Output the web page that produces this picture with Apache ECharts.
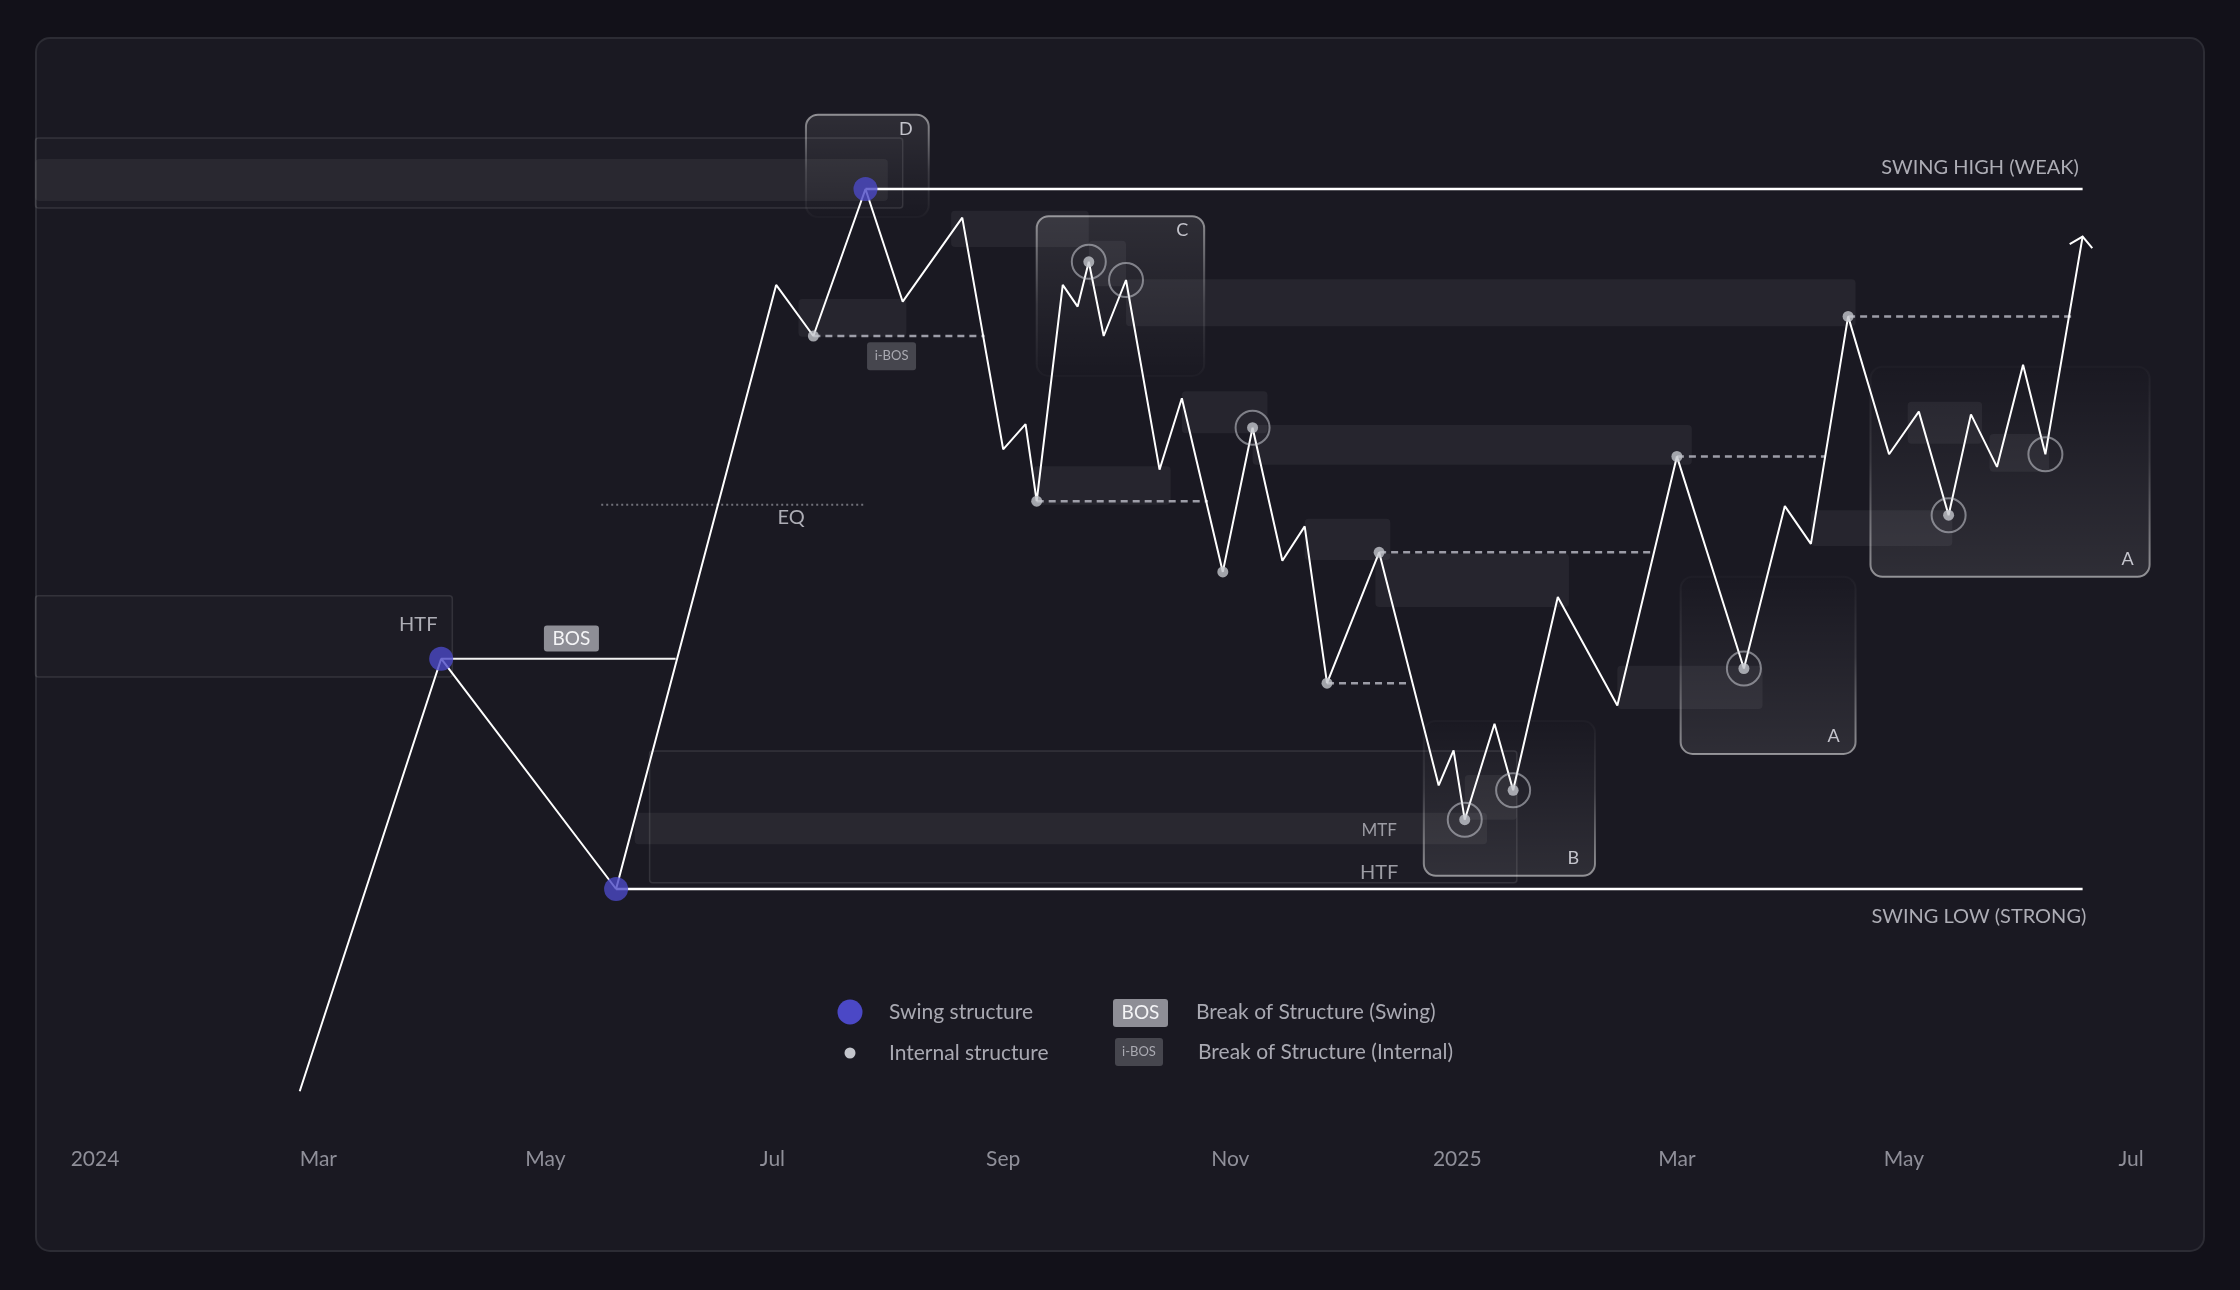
<!DOCTYPE html>
<html lang="en">
<head>
<meta charset="utf-8">
<title>Market structure</title>
<script src="https://cdn.jsdelivr.net/npm/echarts@6/dist/echarts.min.js"></script>
<style>
    html, body { margin: 0; padding: 0; background: #121119; }
    #chart { width: 2240px; height: 1290px; }
</style>
</head>
<body>
<div id="chart"></div>
<script>
// ---- price path ----
var pathDates = [
    '2024-02-25', '2024-04-03', '2024-05-20', '2024-07-02', '2024-07-12', '2024-07-26',
    '2024-08-05', '2024-08-21', '2024-09-01', '2024-09-07', '2024-09-10', '2024-09-17',
    '2024-09-21', '2024-09-24', '2024-09-28', '2024-10-04', '2024-10-13', '2024-10-19',
    '2024-10-30', '2024-11-07', '2024-11-15', '2024-11-21', '2024-11-27', '2024-12-11',
    '2024-12-27', '2024-12-31', '2025-01-03', '2025-01-11', '2025-01-16', '2025-01-28',
    '2025-02-13', '2025-03-01', '2025-03-19', '2025-03-30', '2025-04-06', '2025-04-16',
    '2025-04-27', '2025-05-05', '2025-05-13', '2025-05-19', '2025-05-26', '2025-06-02',
    '2025-06-08', '2025-06-18'
];
var pathPrices = [
    71.1, 132.9, 100.0, 186.3, 179.0, 200.0,
    183.9, 195.9, 162.8, 166.4, 155.4, 186.3,
    183.2, 189.6, 179.0, 187.0, 159.9, 170.1,
    145.3, 165.9, 146.9, 151.8, 129.4, 148.1,
    114.8, 119.8, 109.9, 123.6, 114.1, 141.7,
    126.2, 161.8, 131.5, 154.7, 149.3, 181.8,
    162.1, 168.2, 153.4, 167.8, 160.3, 174.9,
    162.1, 193.2
];
var swingIdx = [1, 2, 5];
var internalIdx = [4, 10, 13, 18, 19, 22, 23, 26, 28, 31, 32, 35, 38];
var ringIdx = [13, 15, 19, 26, 28, 32, 38, 42];

// ---- zones: [from, to, low, high] ----
var fillZones = [
    ['2023-12-16', '2024-08-01', 198.3, 204.3],
    ['2024-07-08', '2024-08-06', 178.9, 184.3],
    ['2024-08-18', '2024-09-24', 191.7, 196.9],
    ['2024-09-24', '2024-10-04', 186.1, 192.6],
    ['2024-10-04', '2025-04-18', 180.4, 187.1],
    ['2024-09-09', '2024-10-16', 154.9, 160.4],
    ['2024-10-19', '2024-11-11', 165.1, 171.1],
    ['2024-11-07', '2025-03-05', 160.6, 166.3],
    ['2024-11-21', '2024-12-14', 147.0, 152.9],
    ['2024-12-10', '2025-01-31', 140.3, 147.9],
    ['2025-02-13', '2025-03-24', 125.7, 131.9],
    ['2025-04-06', '2025-05-14', 149.0, 154.1],
    ['2025-05-02', '2025-05-22', 163.6, 169.6],
    ['2025-05-24', '2025-06-09', 159.6, 165.0],
    ['2025-01-03', '2025-01-17', 109.9, 116.3],
    ['2024-05-25', '2025-01-09', 106.4, 110.9]
];
var outlineZones = [
    ['2023-12-16', '2024-08-05', 197.3, 207.3],
    ['2024-05-29', '2025-01-17', 100.9, 119.7],
    ['2023-12-16', '2024-04-06', 130.3, 141.9]
];
// [from, to, low, high, letter]
var boxes = [
    ['2024-07-10', '2024-08-12', 196.0, 210.6, 'D'],
    ['2024-09-10', '2024-10-25', 173.3, 196.1, 'C'],
    ['2024-12-23', '2025-02-07', 101.9, 124.0, 'B'],
    ['2025-03-02', '2025-04-18', 119.3, 144.6, 'A'],
    ['2025-04-22', '2025-07-06', 144.6, 174.6, 'A']
];

// ---- levels: [from, to, price] ----
var structureLines = [
    ['2024-07-26', '2025-06-18', 200.0],
    ['2024-05-20', '2025-06-18', 100.0]
];
var bosLines = [['2024-04-03', '2024-06-05', 132.9]];
var iBosLines = [
    ['2024-07-12', '2024-08-27', 179.0],
    ['2024-09-10', '2024-10-26', 155.4],
    ['2024-11-27', '2024-12-19', 129.4],
    ['2024-12-11', '2025-02-23', 148.1],
    ['2025-03-01', '2025-04-10', 161.8],
    ['2025-04-16', '2025-06-15', 181.8]
];
var eqLines = [['2024-05-16', '2024-07-26', 154.9]];

// ---- texts: [text, date, price] ----
var tags = [
    ['BOS', '2024-05-08', 135.8],
    ['i-BOS', '2024-08-02', 176.1]
];
var labels = [
    ['EQ', '2024-07-06', 153.0],
    ['HTF', '2024-04-02', 137.8],
    ['MTF', '2024-12-11', 108.3],
    ['HTF', '2024-12-11', 102.3],
    ['SWING HIGH (WEAK)', '2025-06-17', 203.0],
    ['SWING LOW (STRONG)', '2025-06-19', 96.1]
];
var labelAlign = ['center', 'right', 'center', 'center', 'right', 'right'];
var labelSize = [20, 20, 17, 20, 20, 20];

var monthNames = ['Jan', 'Feb', 'Mar', 'Apr', 'May', 'Jun', 'Jul', 'Aug', 'Sep', 'Oct', 'Nov', 'Dec'];
var FONT = 'Lato, "Noto Sans", sans-serif';

// local-time parse, same as echarts does for 'YYYY-MM-DD'
function ts(s) {
    var a = s.split('-');
    return new Date(+a[0], +a[1] - 1, +a[2]).getTime();
}
function pt(i) { return [ts(pathDates[i]), pathPrices[i]]; }
function zoneRows(list) {
    return list.map(function (z) { return [ts(z[0]), ts(z[1]), z[2], z[3]]; });
}
function segRows(list) {
    return list.map(function (z) { return [ts(z[0]), ts(z[1]), z[2]]; });
}
function txtRows(list) {
    return list.map(function (z) { return [ts(z[1]), z[2]]; });
}

function grad(stops) {
    return new echarts.graphic.LinearGradient(0, 0, 0, 1, stops);
}

function rectRenderer(kind) {
    return function (params, api) {
        var tl = api.coord([api.value(0), api.value(3)]);
        var br = api.coord([api.value(1), api.value(2)]);
        var style = kind === 'fill'
            ? { fill: 'rgba(255,255,255,0.055)' }
            : { fill: 'rgba(255,255,255,0.015)', stroke: 'rgba(255,255,255,0.11)', lineWidth: 1.5 };
        return {
            type: 'rect',
            shape: { x: tl[0], y: tl[1], width: br[0] - tl[0], height: br[1] - tl[1], r: kind === 'fill' ? 4 : 3 },
            style: style
        };
    };
}

function renderBox(params, api) {
    var tl = api.coord([api.value(0), api.value(3)]);
    var br = api.coord([api.value(1), api.value(2)]);
    var letter = boxes[params.dataIndex][4];
    var down = letter === 'D' || letter === 'C';
    // border and glow are strongest on the side facing away from price
    var strokeStops = [
        { offset: 0, color: 'rgba(255,255,255,0.5)' },
        { offset: 0.55, color: 'rgba(255,255,255,0.12)' },
        { offset: 1, color: 'rgba(255,255,255,0.02)' }
    ];
    var fillStops = [
        { offset: 0, color: 'rgba(255,255,255,0.09)' },
        { offset: 1, color: 'rgba(255,255,255,0.0)' }
    ];
    if (!down) {
        strokeStops = strokeStops.map(function (s) { return { offset: 1 - s.offset, color: s.color }; }).reverse();
        fillStops = fillStops.map(function (s) { return { offset: 1 - s.offset, color: s.color }; }).reverse();
    }
    return {
        type: 'group',
        children: [{
            type: 'rect',
            shape: { x: tl[0], y: tl[1], width: br[0] - tl[0], height: br[1] - tl[1], r: 12 },
            style: { fill: grad(fillStops), stroke: grad(strokeStops), lineWidth: 2 }
        }, {
            type: 'text',
            style: {
                text: letter,
                x: br[0] - 16,
                y: down ? tl[1] + 14 : br[1] - 18,
                fill: '#c4c4cc',
                font: '18px ' + FONT,
                textAlign: 'right', align: 'right',
                textVerticalAlign: 'middle', verticalAlign: 'middle'
            }
        }]
    };
}

function segRenderer(base) {
    return function (params, api) {
        var a = api.coord([api.value(0), api.value(2)]);
        var b = api.coord([api.value(1), api.value(2)]);
        return {
            type: 'line',
            shape: { x1: a[0], y1: a[1], x2: b[0], y2: b[1] },
            style: Object.assign({}, base)
        };
    };
}

function renderTag(params, api) {
    var c = api.coord([api.value(0), api.value(1)]);
    var text = tags[params.dataIndex][0];
    var swing = text === 'BOS';
    var w = swing ? 55 : 49, h = swing ? 26 : 28;
    return {
        type: 'group',
        children: [{
            type: 'rect',
            shape: { x: c[0] - w / 2, y: c[1] - h / 2, width: w, height: h, r: 3 },
            style: { fill: swing ? '#8e8e96' : '#46464e' }
        }, {
            type: 'text',
            style: {
                text: text, x: c[0], y: c[1],
                fill: swing ? '#f4f4f6' : '#aaaab2',
                font: (swing ? '19px ' : '13px ') + FONT,
                textAlign: 'center', align: 'center',
                textVerticalAlign: 'middle', verticalAlign: 'middle'
            }
        }]
    };
}

function renderLabel(params, api) {
    var c = api.coord([api.value(0), api.value(1)]);
    var i = params.dataIndex;
    return {
        type: 'text',
        style: {
            text: labels[i][0], x: c[0], y: c[1],
            fill: i === 2 || i === 3 ? '#9c9ca4' : '#adadb5',
            font: labelSize[i] + 'px ' + FONT,
            textAlign: labelAlign[i], align: labelAlign[i],
            textVerticalAlign: 'middle', verticalAlign: 'middle'
        }
    };
}

function renderArrow(params, api) {
    var tip = api.coord([api.value(0), api.value(1)]);
    var prev = api.coord([api.value(2), api.value(3)]);
    var ang = Math.atan2(tip[1] - prev[1], tip[0] - prev[0]);
    var len = 15, spread = 0.87;
    var a1 = [tip[0] - len * Math.cos(ang - spread), tip[1] - len * Math.sin(ang - spread)];
    var a2 = [tip[0] - len * Math.cos(ang + spread), tip[1] - len * Math.sin(ang + spread)];
    return {
        type: 'polyline',
        shape: { points: [a1, tip, a2] },
        style: { stroke: '#ffffff', lineWidth: 2, fill: null }
    };
}

var last = pathDates.length - 1;
var legendText = { fill: '#a9a9b2', font: '21px ' + FONT, textAlign: 'left', align: 'left', textVerticalAlign: 'middle', verticalAlign: 'middle' };

var chart = echarts.init(document.getElementById('chart'));
chart.setOption({
    backgroundColor: '#121119',
    animation: false,
    grid: { left: 95, right: 109, top: 49, bottom: 149 },
    xAxis: {
        type: 'time',
        min: ts('2024-01-01'),
        max: ts('2025-07-01'),
        splitNumber: 8,
        axisLine: { show: false },
        axisTick: { show: false },
        splitLine: { show: false },
        axisLabel: {
            margin: 8,
            color: '#8f8f99',
            fontSize: 21,
            fontFamily: FONT,
            formatter: function (v) {
                var d = new Date(v);
                return d.getMonth() === 0 ? String(d.getFullYear()) : monthNames[d.getMonth()];
            }
        }
    },
    yAxis: { type: 'value', min: 64, max: 220, show: false },
    graphic: [
        {
            type: 'rect', z: -1, silent: true,
            shape: { x: 36, y: 38, width: 2168, height: 1213, r: 14 },
            style: { fill: '#1a1922', stroke: '#2c2c34', lineWidth: 2 }
        },
        { type: 'circle', z: 10, shape: { cx: 850, cy: 1012, r: 12.5 }, style: { fill: '#4b48c6' } },
        { type: 'text', z: 10, style: Object.assign({ text: 'Swing structure', x: 889, y: 1012 }, legendText) },
        { type: 'circle', z: 10, shape: { cx: 850, cy: 1053, r: 5.5 }, style: { fill: '#c3c5cc' } },
        { type: 'text', z: 10, style: Object.assign({ text: 'Internal structure', x: 889, y: 1053 }, legendText) },
        { type: 'rect', z: 10, shape: { x: 1113, y: 999, width: 55, height: 28, r: 3 }, style: { fill: '#8e8e96' } },
        { type: 'text', z: 11, style: { text: 'BOS', x: 1140.5, y: 1013, fill: '#f4f4f6', font: '19px ' + FONT, textAlign: 'center', align: 'center', textVerticalAlign: 'middle', verticalAlign: 'middle' } },
        { type: 'rect', z: 10, shape: { x: 1115, y: 1038, width: 48, height: 28, r: 3 }, style: { fill: '#46464e' } },
        { type: 'text', z: 11, style: { text: 'i-BOS', x: 1139, y: 1052, fill: '#aaaab2', font: '13px ' + FONT, textAlign: 'center', align: 'center', textVerticalAlign: 'middle', verticalAlign: 'middle' } },
        { type: 'text', z: 10, style: Object.assign({ text: 'Break of Structure (Swing)', x: 1196, y: 1012 }, legendText) },
        { type: 'text', z: 10, style: Object.assign({ text: 'Break of Structure (Internal)', x: 1198, y: 1052 }, legendText) }
    ],
    series: [
        {
            name: 'outline zones', type: 'custom', z: 1, clip: false, silent: true,
            renderItem: rectRenderer('outline'),
            encode: { x: [0, 1], y: [2, 3] },
            data: zoneRows(outlineZones)
        },
        {
            name: 'zones', type: 'custom', z: 1, clip: false, silent: true,
            renderItem: rectRenderer('fill'),
            encode: { x: [0, 1], y: [2, 3] },
            data: zoneRows(fillZones)
        },
        {
            name: 'boxes', type: 'custom', z: 2, clip: false, silent: true,
            renderItem: renderBox,
            encode: { x: [0, 1], y: [2, 3] },
            data: zoneRows(boxes)
        },
        {
            name: 'EQ', type: 'custom', z: 3, clip: false, silent: true,
            renderItem: segRenderer({ stroke: 'rgba(140,140,150,0.75)', lineWidth: 2, lineDash: [2, 3] }),
            encode: { x: [0, 1], y: 2 },
            data: segRows(eqLines)
        },
        {
            name: 'internal BOS', type: 'custom', z: 3, clip: false, silent: true,
            renderItem: segRenderer({ stroke: 'rgba(180,180,190,0.85)', lineWidth: 2.5, lineDash: [7, 5] }),
            encode: { x: [0, 1], y: 2 },
            data: segRows(iBosLines)
        },
        {
            name: 'swing levels', type: 'custom', z: 4, clip: false, silent: true,
            renderItem: segRenderer({ stroke: '#ffffff', lineWidth: 2.5 }),
            encode: { x: [0, 1], y: 2 },
            data: segRows(structureLines)
        },
        {
            name: 'BOS', type: 'custom', z: 4, clip: false, silent: true,
            renderItem: segRenderer({ stroke: '#f2f2f2', lineWidth: 2 }),
            encode: { x: [0, 1], y: 2 },
            data: segRows(bosLines)
        },
        {
            name: 'price', type: 'line', z: 5, silent: true,
            showSymbol: false, symbol: 'none',
            lineStyle: { color: '#ffffff', width: 2 },
            data: pathDates.map(function (d, i) { return pt(i); })
        },
        {
            name: 'arrow', type: 'custom', z: 5, clip: false, silent: true,
            renderItem: renderArrow,
            encode: { x: 0, y: 1 },
            data: [[ts(pathDates[last]), pathPrices[last], ts(pathDates[last - 1]), pathPrices[last - 1]]]
        },
        {
            name: 'rings', type: 'scatter', z: 6, silent: true,
            symbolSize: 34,
            itemStyle: { color: 'rgba(0,0,0,0)', borderColor: 'rgba(205,207,215,0.68)', borderWidth: 2 },
            data: ringIdx.map(pt)
        },
        {
            name: 'Internal structure', type: 'scatter', z: 7, silent: true,
            symbolSize: 11,
            itemStyle: { color: '#c3c5cc' },
            data: internalIdx.map(pt)
        },
        {
            name: 'Swing structure', type: 'scatter', z: 8, silent: true,
            symbolSize: 24,
            itemStyle: { color: '#4b48c6' },
            data: swingIdx.map(pt)
        },
        {
            name: 'tags', type: 'custom', z: 8, clip: false, silent: true,
            renderItem: renderTag,
            encode: { x: 0, y: 1 },
            data: txtRows(tags)
        },
        {
            name: 'labels', type: 'custom', z: 8, clip: false, silent: true,
            renderItem: renderLabel,
            encode: { x: 0, y: 1 },
            data: txtRows(labels)
        }
    ]
});
</script>
</body>
</html>
